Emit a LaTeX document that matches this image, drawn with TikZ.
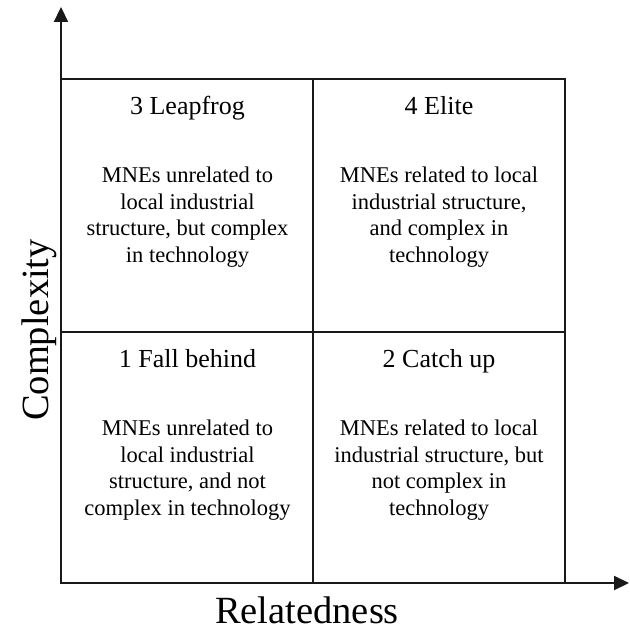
\documentclass[tikz,border=0pt]{standalone}
\usepackage{fontspec}
\setmainfont{Liberation Serif}
\usetikzlibrary{arrows.meta}
\begin{document}
\begin{tikzpicture}[x=1pt,y=-1pt,
  frame/.style={line width=2.2pt,draw=black!90},
  axis/.style={line width=2.2pt,draw=black!90,-{Triangle[length=15pt,width=14pt]}},
  title/.style={font=\fontsize{26}{30}\selectfont,anchor=base,inner sep=0pt},
  body/.style={font=\fontsize{22.5}{26.7}\selectfont,align=center,anchor=north,inner sep=0pt},
  axlabel/.style={font=\fontsize{38.5}{44}\selectfont,anchor=base,inner sep=0pt}]
\useasboundingbox (0,0) rectangle (629,631);
% axes
\coordinate (O) at (61,583);
\coordinate (Ytip) at (61,7);
\coordinate (Xtip) at (629,583);
\draw[axis] (O) -- (Ytip);
\draw[axis] (O) -- (Xtip);
% grid
\coordinate (TL) at (61,79);
\coordinate (BR) at (565,583);
\draw[frame] (TL) rectangle (BR);
\coordinate (MT) at (313,79);
\coordinate (MB) at (313,583);
\coordinate (ML) at (61,332);
\coordinate (MR) at (565,332);
\draw[frame] (MT) -- (MB);
\draw[frame] (ML) -- (MR);
% quadrant titles
\node[title] (t3) at (187.5,115) {3 Leapfrog};
\node[title] (t4) at (439,115) {4 Elite};
\node[title] (t1) at (187.5,367) {1 Fall behind};
\node[title] (t2) at (439,367) {2 Catch up};
% bodies
\node[body] (b3) at (187.5,166.5) {MNEs unrelated to\\local industrial\\structure, but complex\\in technology};
\node[body] (b4) at (439,166.5) {MNEs related to local\\industrial structure,\\and complex in\\technology};
\node[body] (b1) at (187.5,419.5) {MNEs unrelated to\\local industrial\\structure, and not\\complex in technology};
\node[body] (b2) at (439,419.5) {MNEs related to local\\industrial structure, but\\not complex in\\technology};
% axis labels
\node[axlabel] (xl) at (307,623) {Relatedness};
\node[axlabel,rotate=90] (yl) at (48,330) {Complexity};
\end{tikzpicture}
\end{document}
